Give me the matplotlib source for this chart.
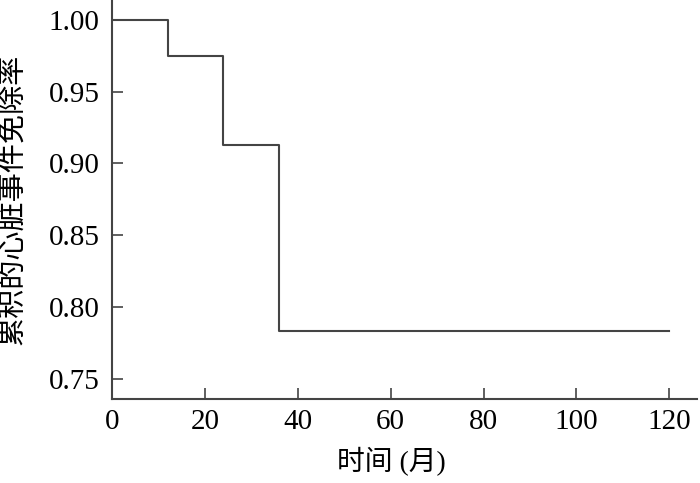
import matplotlib
matplotlib.use("Agg")
import matplotlib.pyplot as plt

plt.rcParams['font.family'] = ['Liberation Serif', 'Noto Sans CJK SC']

times = [0, 12, 24, 36, 120]
survival = [1.000, 0.975, 0.913, 0.783, 0.783]
xticks = [0, 20, 40, 60, 80, 100, 120]
yticks = [0.75, 0.80, 0.85, 0.90, 0.95, 1.00]

fig = plt.figure(figsize=(7, 4.83), dpi=100)
ax = fig.add_axes([0.16, 0.173, 0.836, 0.827])
ax.step(times, survival, where='post', color='#444444', lw=1.5)
ax.set_xlim(0, 126)
ax.set_ylim(0.7356, 1.0139)
ax.set_xticks(xticks)
ax.set_yticks(yticks)
ax.set_yticklabels([f"{v:.2f}" for v in yticks])
for s in ['top', 'right']:
    ax.spines[s].set_visible(False)
for s in ['left', 'bottom']:
    ax.spines[s].set_color('#444444')
    ax.spines[s].set_linewidth(1.5)
ax.tick_params(direction='in', length=8, width=1.2, color='#444444', labelsize=21)
ax.tick_params(axis='y', pad=9)
ax.tick_params(axis='x', pad=7)
ax.set_xlabel('时间 (月)', fontsize=20)
ax.set_ylabel('累积的心脏事件免除率', fontsize=21)
ax.xaxis.set_label_coords(0.477, -0.118)
ax.yaxis.set_label_coords(-0.145, 0.5)
fig.savefig('out.png', dpi=100)
